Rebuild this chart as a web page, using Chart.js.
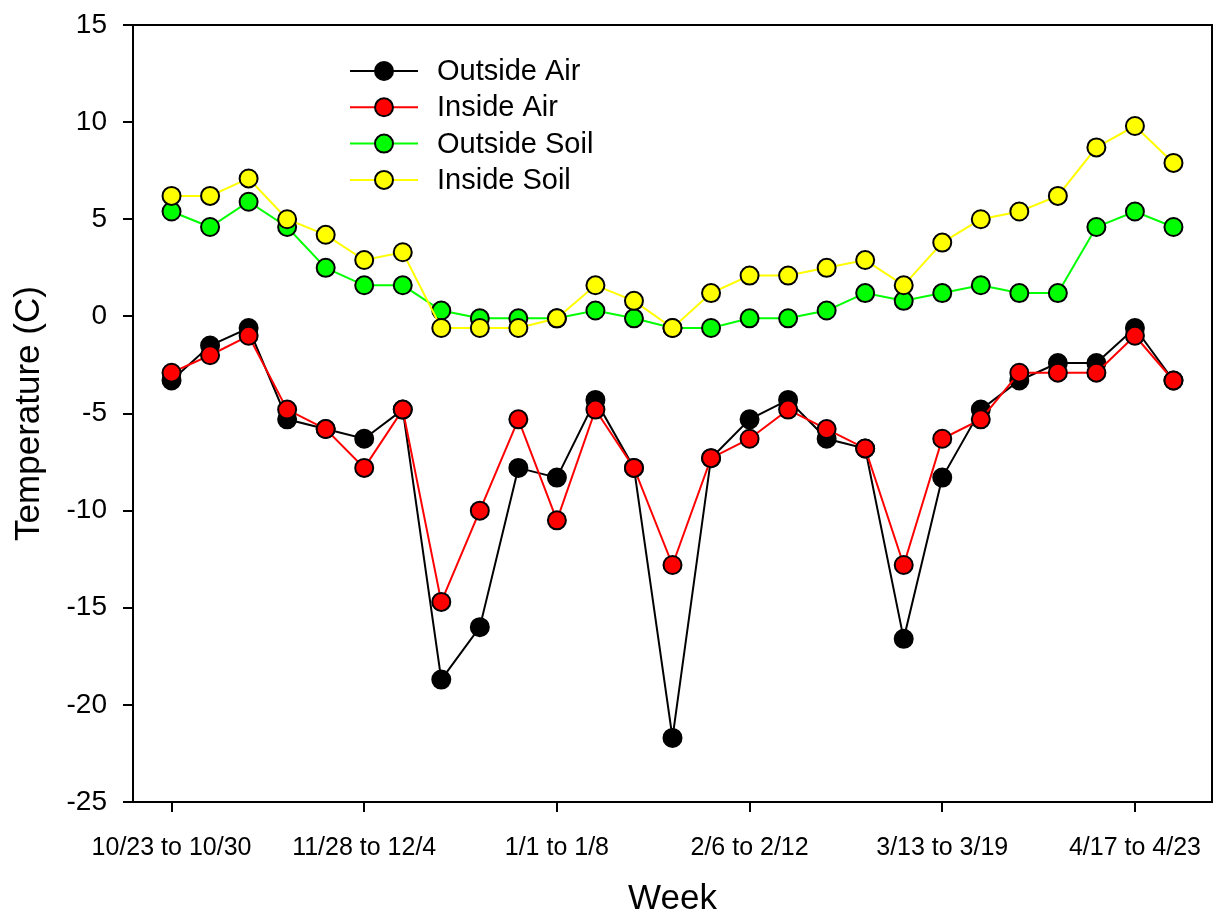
<!DOCTYPE html>
<html>
<head>
<meta charset="utf-8">
<title>Weekly temperature</title>
<script src="https://cdn.jsdelivr.net/npm/chart.js@4"></script>
<style>
  body { margin: 0; background: #fff; }
</style>
</head>
<body>
<canvas id="tempChart" width="1219" height="918"></canvas>
<script>
// week labels, only every 5th one is shown on the axis
const weeks = [
  "10/23 to 10/30", "10/31 to 11/6", "11/7 to 11/13", "11/14 to 11/20", "11/21 to 11/27",
  "11/28 to 12/4", "12/5 to 12/11", "12/12 to 12/18", "12/19 to 12/25", "12/26 to 12/31",
  "1/1 to 1/8", "1/9 to 1/15", "1/16 to 1/22", "1/23 to 1/29", "1/30 to 2/5",
  "2/6 to 2/12", "2/13 to 2/19", "2/20 to 2/26", "2/27 to 3/5", "3/6 to 3/12",
  "3/13 to 3/19", "3/20 to 3/26", "3/27 to 4/2", "4/3 to 4/9", "4/10 to 4/16",
  "4/17 to 4/23", "4/24 to 4/30"
];
const weekTicks = [0, 5, 10, 15, 20, 25];

const outsideAir = [-3.3, -1.5, -0.6, -5.3, -5.8, -6.3, -4.8, -18.7, -16.0, -7.8,
  -8.3, -4.3, -7.8, -21.7, -7.3, -5.3, -4.3, -6.3, -6.8, -16.6,
  -8.3, -4.8, -3.3, -2.4, -2.4, -0.6, -3.3];
const insideAir = [-2.9, -2.0, -1.0, -4.8, -5.8, -7.8, -4.8, -14.7, -10.0, -5.3,
  -10.5, -4.8, -7.8, -12.8, -7.3, -6.3, -4.8, -5.8, -6.8, -12.8,
  -6.3, -5.3, -2.9, -2.9, -2.9, -1.0, -3.3];
const outsideSoil = [5.4, 4.6, 5.9, 4.6, 2.5, 1.6, 1.6, 0.3, -0.1, -0.1,
  -0.1, 0.3, -0.1, -0.6, -0.6, -0.1, -0.1, 0.3, 1.2, 0.8,
  1.2, 1.6, 1.2, 1.2, 4.6, 5.4, 4.6];
const insideSoil = [6.2, 6.2, 7.1, 5.0, 4.2, 2.9, 3.3, -0.6, -0.6, -0.6,
  -0.1, 1.6, 0.8, -0.6, 1.2, 2.1, 2.1, 2.5, 2.9, 1.6,
  3.8, 5.0, 5.4, 6.2, 8.7, 9.8, 7.9];

const fontFamily = "'Liberation Sans', Arial, sans-serif";

function toPoints(values) {
  return values.map((v, i) => ({ x: i, y: v }));
}

function series(label, values, color, order) {
  return {
    label: label,
    data: toPoints(values),
    borderColor: color,
    backgroundColor: color,
    pointBackgroundColor: color,
    pointBorderColor: "#000",
    pointBorderWidth: 2,
    pointRadius: 9,
    borderWidth: 2,
    tension: 0,
    order: order, // lower order ends up on top
  };
}

// legend with a line through the marker, drawn inside the plot
const lineLegend = {
  id: "lineLegend",
  afterDraw(chart, args, opts) {
    const ctx = chart.ctx;
    ctx.save();
    ctx.font = opts.font;
    ctx.textBaseline = "middle";
    chart.data.datasets.forEach((ds, i) => {
      const y = opts.y + i * opts.rowGap;
      ctx.lineWidth = 2;
      ctx.strokeStyle = ds.borderColor;
      ctx.beginPath();
      ctx.moveTo(opts.x, y);
      ctx.lineTo(opts.x + opts.lineLength, y);
      ctx.stroke();
      ctx.beginPath();
      ctx.arc(opts.x + opts.lineLength / 2, y, 9, 0, Math.PI * 2);
      ctx.fillStyle = ds.pointBackgroundColor;
      ctx.fill();
      ctx.strokeStyle = "#000";
      ctx.stroke();
      ctx.fillStyle = "#000";
      ctx.fillText(ds.label, opts.x + opts.lineLength + opts.gap, y + 1);
    });
    ctx.restore();
  },
};

// box round the plot area
const frame = {
  id: "frame",
  beforeDatasetsDraw(chart) {
    const { ctx, chartArea } = chart;
    ctx.save();
    ctx.strokeStyle = "#000";
    ctx.lineWidth = 2;
    ctx.strokeRect(chartArea.left, chartArea.top, chartArea.right - chartArea.left, chartArea.bottom - chartArea.top);
    ctx.restore();
  },
};

const ctx = document.getElementById("tempChart").getContext("2d");
const chart = new Chart(ctx, {
  type: "line",
  data: {
    datasets: [
      series("Outside Air", outsideAir, "#000000", 4),
      series("Inside Air", insideAir, "#ff0000", 3),
      series("Outside Soil", outsideSoil, "#00ff00", 2),
      series("Inside Soil", insideSoil, "#ffff00", 1),
    ],
  },
  options: {
    responsive: false,
    animation: false,
    layout: { autoPadding: false, padding: { top: 25, right: 7, left: 0, bottom: 0 } },
    scales: {
      x: {
        type: "linear",
        min: -1,
        max: 27,
        afterBuildTicks: (scale) => {
          scale.ticks = weekTicks.map((v) => ({ value: v }));
        },
        afterFit: (scale) => {
          scale.height = 116;
          scale.paddingLeft = 0;
          scale.paddingRight = 0;
        },
        ticks: {
          color: "#000",
          font: { family: fontFamily, size: 25 },
          padding: 21,
          maxRotation: 0,
          autoSkip: false,
          callback: (value) => weeks[value],
        },
        grid: { drawOnChartArea: false, drawTicks: true, tickLength: 10, color: "#000", lineWidth: 2 },
        border: { display: true, color: "#000", width: 2 },
        title: {
          display: true,
          text: "Week",
          color: "#000",
          font: { family: fontFamily, size: 35 },
          padding: { top: 0, bottom: -2 },
        },
      },
      y: {
        min: -25,
        max: 15,
        afterFit: (scale) => {
          scale.width = 133;
          scale.paddingTop = 0;
          scale.paddingBottom = 0;
        },
        ticks: {
          stepSize: 5,
          color: "#000",
          font: { family: fontFamily, size: 28 },
          padding: 16,
        },
        grid: { drawOnChartArea: false, drawTicks: true, tickLength: 10, color: "#000", lineWidth: 2 },
        border: { display: true, color: "#000", width: 2 },
        title: {
          display: true,
          text: "Temperature (C)",
          color: "#000",
          font: { family: fontFamily, size: 35 },
          padding: { top: 8, bottom: 0 },
        },
      },
    },
    plugins: {
      legend: { display: false },
      tooltip: { enabled: false },
      lineLegend: { x: 350, y: 71, rowGap: 36.3, lineLength: 68, gap: 19, font: "29px " + fontFamily },
    },
  },
  plugins: [frame, lineLegend],
});
</script>
</body>
</html>
